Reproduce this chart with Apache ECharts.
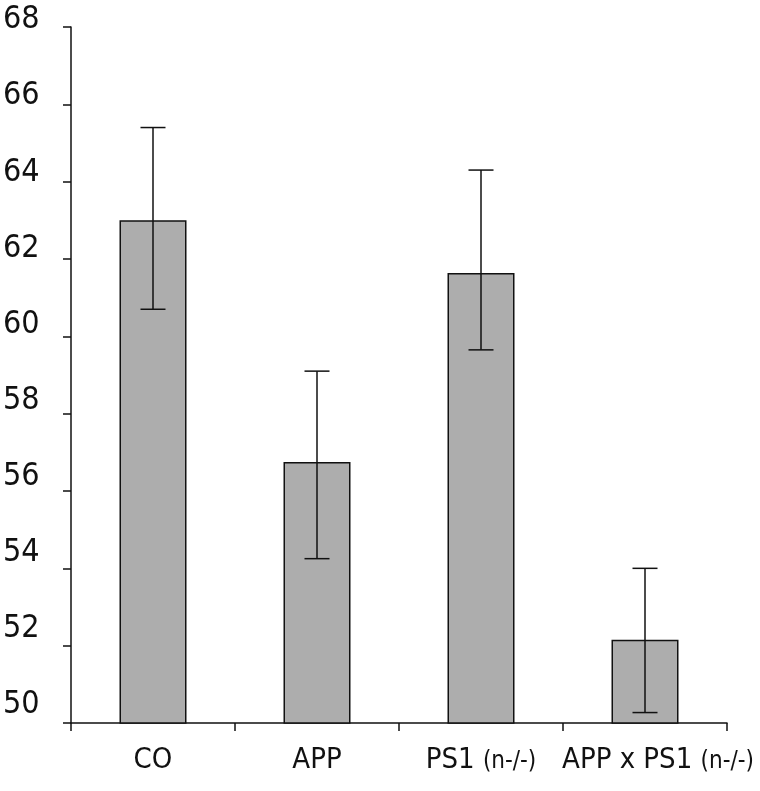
<!DOCTYPE html>
<html>
<head>
<meta charset="utf-8">
<script src="https://cdn.jsdelivr.net/npm/echarts@6/dist/echarts.min.js"></script>
<style>html,body{margin:0;padding:0;background:#fff}#c{width:760px;height:791px}</style>
</head>
<body>
<div id="c"></div>
<script>
var categories = ['CO', 'APP', 'PS1 (n-/-)', 'APP x PS1 (n-/-)'];
var means = [63.0, 56.75, 61.64, 52.15];
var errUpper = [65.4, 59.1, 64.3, 54.0];
var errLower = [60.7, 54.25, 59.65, 50.27];
var yTicks = [50, 52, 54, 56, 58, 60, 62, 64, 66, 68];

var FONT = '"DejaVu Sans", "Liberation Sans Narrow", sans-serif';
var W = 'normal condensed';

function fmtCat(v, idx) {
  var m = v.match(/^(.*?)\s*\((.*)\)$/);
  var lead = idx === categories.length - 1 ? '{p|}' : '';
  if (m) return lead + '{a|' + m[1] + ' }{b|(' + m[2] + ')}';
  return '{a|' + v + '}';
}

var chart = echarts.init(document.getElementById('c'));
chart.setOption({
  animation: false,
  backgroundColor: '#fff',
  grid: [
    { left: 71, right: 33, top: 27, bottom: 68 },
    { left: 71, right: 33, top: 20, bottom: 86 }
  ],
  xAxis: [
    {
      type: 'category', gridIndex: 0, data: categories,
      axisLine: { lineStyle: { color: '#111', width: 1.5 } },
      axisTick: { show: true, interval: 0, length: 8, lineStyle: { color: '#111', width: 1.5 } },
      axisLabel: {
        interval: 0, hideOverlap: false,
        margin: 23, color: '#111', fontFamily: FONT, fontWeight: W,
        formatter: fmtCat,
        rich: {
          a: { fontSize: 29, fontFamily: FONT, fontWeight: W, color: '#111' },
          b: { fontSize: 24, fontFamily: FONT, fontWeight: W, color: '#111', padding: [3, 0, 0, 0] },
          p: { width: 26, fontSize: 10 }
        }
      }
    },
    { type: 'category', gridIndex: 1, data: categories, show: false }
  ],
  yAxis: [
    {
      type: 'value', gridIndex: 0, min: 50, max: 68, interval: 2,
      axisLine: { show: true, lineStyle: { color: '#111', width: 1.5 } },
      axisTick: { show: true, length: 8, lineStyle: { color: '#111', width: 1.5 } },
      axisLabel: { show: false },
      splitLine: { show: false }
    },
    {
      type: 'value', gridIndex: 1, min: yTicks[0], max: yTicks[yTicks.length - 1], interval: 2,
      axisLine: { show: false }, axisTick: { show: false }, splitLine: { show: false },
      axisLabel: { margin: 41, color: '#111', fontSize: 32, fontFamily: FONT, fontWeight: W }
    }
  ],
  series: [
    {
      type: 'bar', xAxisIndex: 0, yAxisIndex: 0, data: means, barWidth: 67,
      itemStyle: { color: '#adadad', borderColor: '#111', borderWidth: 1.5 },
      z: 2
    },
    {
      type: 'custom', xAxisIndex: 0, yAxisIndex: 0, z: 3,
      data: categories.map(function (c, i) { return [i, errLower[i], errUpper[i]]; }),
      renderItem: function (params, api) {
        var x = api.value(0);
        var lo = api.coord([x, api.value(1)]);
        var hi = api.coord([x, api.value(2)]);
        var hw = 12.5;
        var st = { stroke: '#111', lineWidth: 1.5 };
        return {
          type: 'group',
          children: [
            { type: 'line', shape: { x1: hi[0], y1: hi[1], x2: lo[0], y2: lo[1] }, style: st },
            { type: 'line', shape: { x1: hi[0] - hw, y1: hi[1], x2: hi[0] + hw, y2: hi[1] }, style: st },
            { type: 'line', shape: { x1: lo[0] - hw, y1: lo[1], x2: lo[0] + hw, y2: lo[1] }, style: st }
          ]
        };
      }
    }
  ]
});
</script>
</body>
</html>
